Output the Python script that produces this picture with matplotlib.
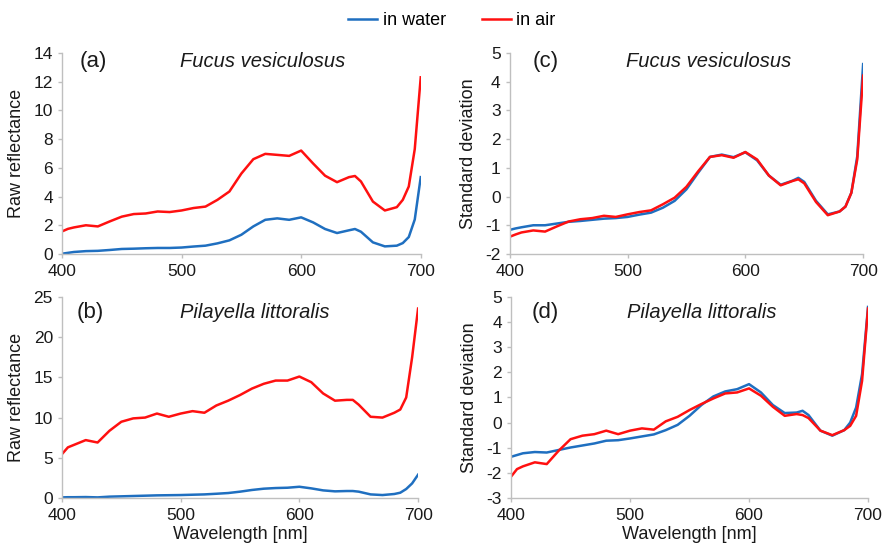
import matplotlib.pyplot as plt

plt.rcParams['font.family'] = ['Liberation Sans', 'DejaVu Sans']
plt.rcParams['axes.unicode_minus'] = False

wl = [400, 405, 410, 420, 430, 440, 450, 460, 470, 480, 490, 500, 510, 520, 530, 540,
      550, 560, 570, 580, 590, 600, 610, 620, 630, 640, 645, 650, 660, 670, 680,
      685, 690, 695, 700]

# (a) Fucus vesiculosus, raw reflectance
fucus_raw_water = [0.02, 0.08, 0.14, 0.20, 0.22, 0.28, 0.35, 0.37, 0.40, 0.42, 0.42, 0.45,
                   0.52, 0.58, 0.74, 0.95, 1.34, 1.92, 2.38, 2.48, 2.38, 2.55, 2.20, 1.74,
                   1.46, 1.65, 1.74, 1.55, 0.81, 0.53, 0.58, 0.76, 1.18, 2.40, 5.35]
fucus_raw_air = [1.57, 1.75, 1.85, 2.00, 1.92, 2.27, 2.60, 2.78, 2.82, 2.96, 2.92, 3.03,
                 3.20, 3.30, 3.77, 4.35, 5.60, 6.60, 6.97, 6.90, 6.83, 7.20, 6.30, 5.45,
                 5.00, 5.35, 5.43, 5.05, 3.65, 3.03, 3.26, 3.77, 4.70, 7.30, 12.3]

# (b) Pilayella littoralis, raw reflectance
pil_raw_water = [0.08, 0.10, 0.10, 0.12, 0.08, 0.17, 0.21, 0.25, 0.29, 0.33, 0.35, 0.37,
                 0.41, 0.45, 0.53, 0.62, 0.79, 1.00, 1.16, 1.24, 1.28, 1.40, 1.20, 0.95,
                 0.83, 0.87, 0.87, 0.79, 0.45, 0.37, 0.50, 0.66, 1.12, 1.82, 2.90]
pil_raw_air = [5.46, 6.30, 6.60, 7.20, 6.90, 8.36, 9.48, 9.90, 10.0, 10.5, 10.1, 10.5,
               10.8, 10.6, 11.5, 12.1, 12.8, 13.6, 14.2, 14.6, 14.6, 15.1, 14.4, 13.0,
               12.1, 12.2, 12.2, 11.6, 10.1, 10.0, 10.6, 11.0, 12.5, 17.5, 23.55]

# (c) Fucus vesiculosus, standardised
fucus_sd_water = [-1.16, -1.11, -1.07, -1.00, -1.00, -0.94, -0.88, -0.85, -0.81, -0.77,
                  -0.75, -0.71, -0.63, -0.56, -0.39, -0.15, 0.25, 0.83, 1.38, 1.46, 1.37,
                  1.54, 1.26, 0.73, 0.41, 0.55, 0.65, 0.51, -0.15, -0.62, -0.52, -0.35,
                  0.13, 1.40, 4.61]
fucus_sd_air = [-1.40, -1.32, -1.25, -1.18, -1.22, -1.04, -0.87, -0.79, -0.75, -0.67,
                -0.71, -0.62, -0.54, -0.48, -0.27, -0.04, 0.34, 0.88, 1.38, 1.44, 1.35,
                1.55, 1.29, 0.73, 0.39, 0.54, 0.60, 0.46, -0.19, -0.65, -0.52, -0.35,
                0.13, 1.29, 4.21]

# (d) Pilayella littoralis, standardised
pil_sd_water = [-1.36, -1.29, -1.22, -1.17, -1.19, -1.09, -0.99, -0.91, -0.83, -0.72,
                -0.70, -0.63, -0.55, -0.47, -0.30, -0.09, 0.27, 0.70, 1.04, 1.24, 1.33,
                1.53, 1.20, 0.70, 0.38, 0.40, 0.47, 0.30, -0.32, -0.52, -0.30, 0.00,
                0.60, 1.93, 4.60]
pil_sd_air = [-2.15, -1.85, -1.74, -1.58, -1.65, -1.12, -0.66, -0.52, -0.46, -0.32,
              -0.46, -0.32, -0.23, -0.28, 0.05, 0.23, 0.50, 0.74, 0.96, 1.16, 1.20,
              1.36, 1.07, 0.63, 0.27, 0.34, 0.30, 0.18, -0.32, -0.50, -0.30, -0.13,
              0.27, 1.66, 4.54]

BLUE = '#1f6fc0'
RED = '#ff1010'
GRAY = '#bfbfbf'
INK = '#1a1a1a'

fig = plt.figure(figsize=(8.88, 5.48), dpi=100)

panels = [
    # rect, water, air, ylim, yticks, letter, name, ylabel, letter x, title x, text y
    ([0.0698, 0.5365, 0.404, 0.367], fucus_raw_water, fucus_raw_air, (0, 14),
     range(0, 15, 2), '(a)', 'Fucus vesiculosus', 'Raw reflectance', 0.048, 0.56, 0.955),
    ([0.0698, 0.0912, 0.401, 0.367], pil_raw_water, pil_raw_air, (0, 25),
     range(0, 26, 5), '(b)', 'Pilayella littoralis', 'Raw reflectance', 0.04, 0.54, 0.92),
    ([0.574, 0.5365, 0.398, 0.367], fucus_sd_water, fucus_sd_air, (-2, 5),
     range(-2, 6), '(c)', 'Fucus vesiculosus', 'Standard deviation', 0.066, 0.564, 0.955),
    ([0.5755, 0.0912, 0.402, 0.367], pil_sd_water, pil_sd_air, (-3, 5),
     range(-3, 6), '(d)', 'Pilayella littoralis', 'Standard deviation', 0.057, 0.535, 0.92),
]

for i, (rect, water, air, ylim, yt, letter, name, ylab, lx, tx, ty) in enumerate(panels):
    ax = fig.add_axes(rect)
    lw1, = ax.plot(wl, water, color=BLUE, lw=1.8, label='in water')
    la1, = ax.plot(wl, air, color=RED, lw=1.8, label='in air')
    ax.set_xlim(400, 700)
    ax.set_ylim(*ylim)
    ax.set_xticks([400, 500, 600, 700])
    ax.set_yticks(list(yt))
    for s in ['top', 'right']:
        ax.spines[s].set_visible(False)
    for s in ['left', 'bottom']:
        ax.spines[s].set_color(GRAY)
        ax.spines[s].set_linewidth(1.0)
    ax.tick_params(colors=GRAY, labelcolor=INK, labelsize=12.5, length=3, width=1)
    ax.tick_params(axis='x', pad=4)
    ax.set_ylabel(ylab, fontsize=13, color=INK, labelpad=6)
    if i in (1, 3):
        ax.set_xlabel('Wavelength [nm]', fontsize=13, color=INK, labelpad=2)
    ax.text(lx, ty, letter, transform=ax.transAxes, fontsize=16, va='center',
            ha='left', color=INK)
    ax.text(tx, ty, name, transform=ax.transAxes, fontsize=14.5, style='italic',
            va='center', ha='center', color=INK)

fig.legend(handles=[lw1, la1], loc='center', bbox_to_anchor=(0.509, 0.962), ncol=2,
           frameon=False, fontsize=13, handlelength=1.6, columnspacing=2.0,
           handletextpad=0.3)

fig.savefig('out.png', dpi=100)
